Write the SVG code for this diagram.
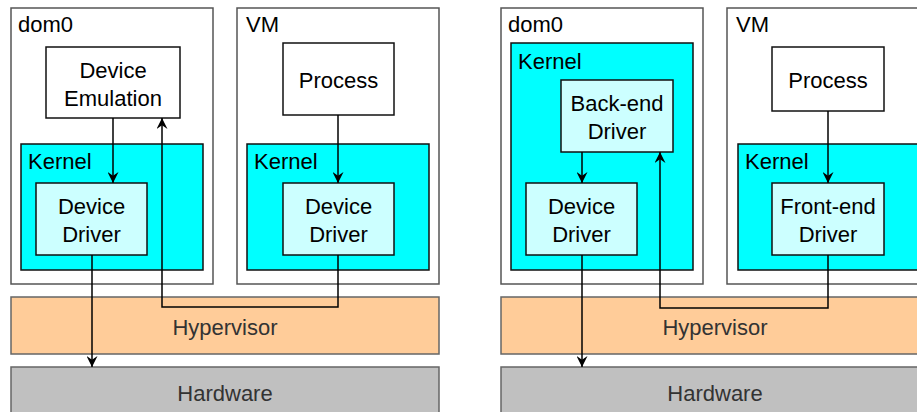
<svg xmlns="http://www.w3.org/2000/svg" width="917" height="412" viewBox="0 0 917 412">
  <style>
    text { font-family: "Liberation Sans", Arial, sans-serif; font-size: 22px; fill: #000; }
    .c { text-anchor: middle; }
    .dom { fill: #fff; stroke: #555; stroke-width: 1.5; }
    .kern { fill: #00ffff; stroke: #111; stroke-width: 1.5; }
    .drv { fill: #ccffff; stroke: #111; stroke-width: 1.5; }
    .proc { fill: #fff; stroke: #111; stroke-width: 1.5; }
    .hyp { fill: #ffcc99; stroke: #666; stroke-width: 1.5; }
    .hw { fill: #c0c0c0; stroke: #666; stroke-width: 1.5; }
    .layer { fill: #333; }
    .wire { fill: none; stroke: #000; stroke-width: 1.5; }
  </style>
  <defs>
    <marker id="arrow" viewBox="0 0 10 10" refX="10" refY="5" markerWidth="11" markerHeight="11" markerUnits="userSpaceOnUse" orient="auto">
      <path d="M0,0 L10,5 L0,10 L3.5,5 Z" fill="#000"/>
    </marker>
  </defs>

  <!-- Left: device emulation -->
  <g id="left-dom0">
    <rect class="dom" x="11" y="8" width="202" height="276"/>
    <text x="18" y="32">dom0</text>
  </g>
  <g id="left-emulation">
    <rect class="proc" x="46" y="47" width="134" height="71"/>
    <text class="c" x="113" y="78">Device</text>
    <text class="c" x="113" y="106">Emulation</text>
  </g>
  <g id="left-dom0-kernel">
    <rect class="kern" x="21" y="144" width="182" height="126"/>
    <text x="28" y="169">Kernel</text>
  </g>
  <g id="left-dom0-driver">
    <rect class="drv" x="36" y="183" width="111" height="72"/>
    <text class="c" x="91.5" y="214">Device</text>
    <text class="c" x="91.5" y="242">Driver</text>
  </g>
  <g id="left-vm">
    <rect class="dom" x="237" y="8" width="202" height="276"/>
    <text x="246" y="32">VM</text>
  </g>
  <g id="left-process">
    <rect class="proc" x="283" y="43" width="111" height="72"/>
    <text class="c" x="338.5" y="88">Process</text>
  </g>
  <g id="left-vm-kernel">
    <rect class="kern" x="247" y="144" width="182" height="126"/>
    <text x="254" y="169">Kernel</text>
  </g>
  <g id="left-vm-driver">
    <rect class="drv" x="283" y="183" width="111" height="72"/>
    <text class="c" x="338.5" y="214">Device</text>
    <text class="c" x="338.5" y="242">Driver</text>
  </g>
  <g id="left-hypervisor">
    <rect class="hyp" x="11" y="297" width="428" height="57"/>
    <text class="c layer" x="225" y="335">Hypervisor</text>
  </g>
  <g id="left-hardware">
    <rect class="hw" x="11" y="367" width="428" height="60"/>
    <text class="c layer" x="225" y="401">Hardware</text>
  </g>

  <!-- Right: split drivers -->
  <g id="right-dom0">
    <rect class="dom" x="501" y="8" width="202" height="276"/>
    <text x="508" y="32">dom0</text>
  </g>
  <g id="right-dom0-kernel">
    <rect class="kern" x="511" y="43" width="182" height="227"/>
    <text x="518" y="69">Kernel</text>
  </g>
  <g id="right-backend">
    <rect class="drv" x="561" y="80" width="112" height="72"/>
    <text class="c" x="617" y="111">Back-end</text>
    <text class="c" x="617" y="139">Driver</text>
  </g>
  <g id="right-dom0-driver">
    <rect class="drv" x="526" y="183" width="111" height="72"/>
    <text class="c" x="581.5" y="214">Device</text>
    <text class="c" x="581.5" y="242">Driver</text>
  </g>
  <g id="right-vm">
    <rect class="dom" x="727" y="8" width="202" height="276"/>
    <text x="736" y="32">VM</text>
  </g>
  <g id="right-process">
    <rect class="proc" x="772" y="47" width="112" height="64"/>
    <text class="c" x="828" y="88">Process</text>
  </g>
  <g id="right-vm-kernel">
    <rect class="kern" x="738" y="144" width="190" height="126"/>
    <text x="745" y="169">Kernel</text>
  </g>
  <g id="right-frontend">
    <rect class="drv" x="772" y="183" width="112" height="72"/>
    <text class="c" x="828" y="214">Front-end</text>
    <text class="c" x="828" y="242">Driver</text>
  </g>
  <g id="right-hypervisor">
    <rect class="hyp" x="501" y="297" width="428" height="57"/>
    <text class="c layer" x="715" y="335">Hypervisor</text>
  </g>
  <g id="right-hardware">
    <rect class="hw" x="501" y="367" width="428" height="60"/>
    <text class="c layer" x="715" y="401">Hardware</text>
  </g>

  <!-- Connectors -->
  <g id="connectors">
    <path class="wire" d="M113,118 V183" marker-end="url(#arrow)"/>
    <path class="wire" d="M338,255 V307 H162 V118" marker-end="url(#arrow)"/>
    <path class="wire" d="M338,115 V183" marker-end="url(#arrow)"/>
    <path class="wire" d="M92,255 V367" marker-end="url(#arrow)"/>

    <path class="wire" d="M582,152 V183" marker-end="url(#arrow)"/>
    <path class="wire" d="M828,255 V308 H660 V152" marker-end="url(#arrow)"/>
    <path class="wire" d="M828,111 V183" marker-end="url(#arrow)"/>
    <path class="wire" d="M582,255 V367" marker-end="url(#arrow)"/>
  </g>
</svg>
